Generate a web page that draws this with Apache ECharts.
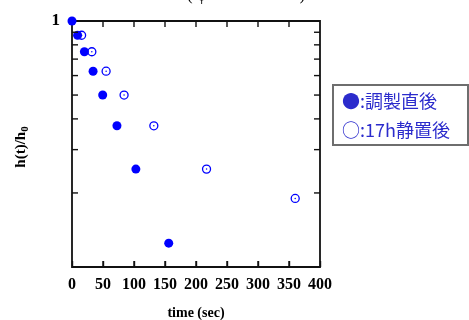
<!DOCTYPE html>
<html><head><meta charset="utf-8">
<script src="https://cdn.jsdelivr.net/npm/echarts@6/dist/echarts.min.js"></script>
<style>html,body{margin:0;padding:0;background:#fff}#c{width:469px;height:320px}</style>
</head><body><div id="c"></div>
<script>
// data
const filledTime = [0, 9, 20, 34, 49.5, 72.5, 103, 156];
const filledRatio = [1, 0.875, 0.75, 0.625, 0.5, 0.375, 0.25, 0.125];
const openTime = [15.5, 32, 55, 84, 132, 217, 360];
const openRatio = [0.875, 0.75, 0.625, 0.5, 0.375, 0.25, 0.19];
const yMinorTicks = [0.2, 0.3, 0.4, 0.5, 0.6, 0.7, 0.8, 0.9];
const xTickValues = [50, 100, 150, 200, 250, 300, 350];
const legendLabels = ['●:調製直後', '○:17h静置後'];
const titleText = '( φ = 3.0 × 10⁻³ )';

const serif = '"Liberation Serif", "DejaVu Serif", serif';
const zip = (a, b) => a.map((v, i) => [v, b[i]]);
// tick items: [x, y, side] side 0=top,1=bottom,2=left,3=right
const tickItems = [];
yMinorTicks.forEach(v => { tickItems.push([200, v, 2]); tickItems.push([200, v, 3]); });
xTickValues.forEach(v => { tickItems.push([v, 0.5, 0]); tickItems.push([v, 0.5, 1]); });

const chart = echarts.init(document.getElementById('c'));
chart.setOption({
  animation: false,
  grid: { left: 72, right: 149, top: 21, bottom: 53, show: true, borderColor: '#111', borderWidth: 1.8,
    backgroundColor: 'transparent' },
  xAxis: { type: 'value', min: 0, max: 400, interval: 50,
    axisLine: { show: false }, splitLine: { show: false },
    axisTick: { show: true, inside: true, length: 6, lineStyle: { color: '#111', width: 1.4 } },
    axisLabel: { show: true, margin: 10, fontFamily: serif, fontWeight: 'bold', fontSize: 16, color: '#000' } },
  yAxis: { type: 'log', logBase: 10, min: 0.1, max: 1,
    axisLine: { show: false }, splitLine: { show: false }, axisTick: { show: false },
    axisLabel: { show: true, margin: 12, formatter: v => (Math.abs(v - 1) < 1e-9 ? '1' : ''),
      fontFamily: serif, fontWeight: 'bold', fontSize: 17, color: '#000' } },
  series: [
    { type: 'scatter', data: zip(openTime, openRatio), symbol: 'circle', symbolSize: 8, clip: false,
      itemStyle: { color: '#fff', borderColor: '#0000ff', borderWidth: 1.3, opacity: 1 } },
    { type: 'scatter', data: zip(openTime, openRatio), symbol: 'circle', symbolSize: 1.5, clip: false,
      itemStyle: { color: '#0000ff', opacity: 1 } },
    { type: 'scatter', data: zip(filledTime, filledRatio), symbol: 'circle', symbolSize: 9, clip: false,
      itemStyle: { color: '#0000ff', opacity: 1 } },
    { type: 'custom', silent: true, clip: false, z: 5,
      data: tickItems,
      renderItem: (params, api) => {
        const side = Number(api.value(2));
        const x = api.value(0), y = api.value(1);
        if (side === 0 || side === 1) {
          const p = api.coord([x, side === 0 ? 1 : 0.1]);
          return { type: 'rect', shape: { x: p[0] - 0.7, y: side === 0 ? p[1] : p[1] - 6, width: 1.4, height: 6 },
            style: { fill: '#111' } };
        }
        const p = api.coord([side === 2 ? 0 : 400, y]);
        const q = [side === 2 ? p[0] + 6 : p[0] - 6, p[1]];
        return { type: 'line', shape: { x1: p[0], y1: p[1], x2: q[0], y2: q[1] },
          style: { stroke: '#111', lineWidth: 1.4 } };
      } }
  ],
  graphic: [
    { type: 'text', x: 246, y: 4, style: { text: titleText, fontFamily: serif, fontSize: 17,
      fill: '#000', align: 'center', verticalAlign: 'bottom' } },
    { type: 'text', x: 196, y: 313, style: { text: 'time (sec)', fontFamily: serif, fontWeight: 'bold',
      fontSize: 14, fill: '#000', align: 'center', verticalAlign: 'middle' } },
    { type: 'text', x: 21, y: 147, rotation: Math.PI / 2, style: {
      text: '{a|h(t)/h}{s|0}', align: 'center', verticalAlign: 'middle',
      rich: { a: { fontFamily: serif, fontWeight: 'bold', fontSize: 15, fill: '#000' },
              s: { fontFamily: serif, fontWeight: 'bold', fontSize: 11, fill: '#000', padding: [8, 0, 0, 0] } } } },
    { type: 'rect', shape: { x: 333, y: 85, width: 135, height: 60 },
      style: { fill: '#fff', stroke: '#6e6e6e', lineWidth: 2 } },
    { type: 'text', x: 342, y: 101, style: { text: legendLabels[0], fontFamily: '"Noto Sans CJK JP", sans-serif',
      fontSize: 18, fill: '#2b2bcc', verticalAlign: 'middle' } },
    { type: 'text', x: 342, y: 130, style: { text: legendLabels[1], fontFamily: '"Noto Sans CJK JP", sans-serif',
      fontSize: 18, fill: '#2b2bcc', verticalAlign: 'middle' } }
  ]
});
</script></body></html>
